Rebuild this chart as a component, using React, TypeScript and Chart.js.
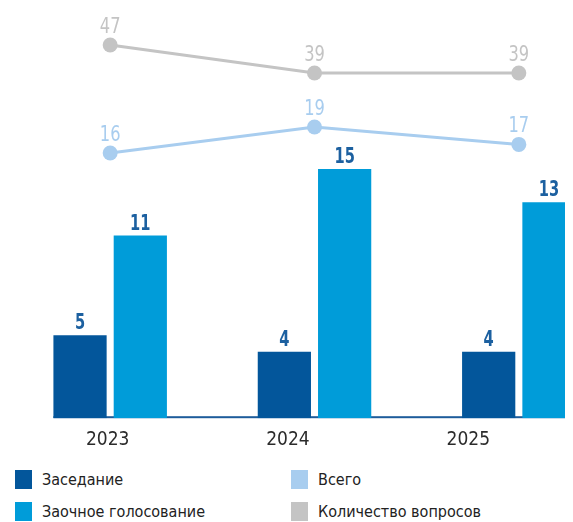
import React, { useEffect, useRef } from 'react';
import { Chart, registerables } from 'chart.js';

Chart.register(...registerables);

const categories = ['2023', '2024', '2025'];
const meetings = [5, 4, 4];
const absentee = [11, 15, 13];
const total = [16, 19, 17];
const questions = [47, 39, 39];

const seriesNames = ['Заседание', 'Заочное голосование', 'Всего', 'Количество вопросов'];

const DARK = '#03569b';
const BRIGHT = '#009cd9';
const LIGHT = '#a8cdef';
const GRAY = '#c4c4c4';
const LABEL_BLUE = '#1c60a0';
const AXIS_BLUE = '#1d5c9b';
const FONT = "'DejaVu Sans Condensed', 'DejaVu Sans', sans-serif";

function drawNarrow(ctx: CanvasRenderingContext2D, text: string, x: number, y: number, sx: number) {
  ctx.save();
  ctx.translate(x, y);
  ctx.scale(sx, 1);
  ctx.fillText(text, 0, 0);
  ctx.restore();
}

const baselinePlugin = {
  id: 'baseline',
  beforeDatasetsDraw(chart: any) {
    const meta = chart.getDatasetMeta(0);
    const first = meta.data[0];
    if (!first) return;
    const { ctx } = chart;
    const y0 = chart.scales.y.getPixelForValue(0);
    const x0 = first.x - first.width / 2;
    ctx.save();
    ctx.fillStyle = AXIS_BLUE;
    ctx.fillRect(x0, y0 - 2, chart.width - x0, 2);
    ctx.restore();
  },
};

const valueLabelPlugin = {
  id: 'valueLabels',
  afterDatasetsDraw(chart: any) {
    const { ctx } = chart;
    chart.data.datasets.forEach((ds: any, i: number) => {
      const meta = chart.getDatasetMeta(i);
      meta.data.forEach((el: any, j: number) => {
        const v = String(ds.data[j]);
        ctx.save();
        ctx.textAlign = 'center';
        ctx.textBaseline = 'alphabetic';
        if (ds.type === 'bar') {
          ctx.font = `bold 22px ${FONT}`;
          ctx.fillStyle = LABEL_BLUE;
          drawNarrow(ctx, v, el.x, el.y - 6, 0.74);
        } else {
          ctx.font = `21px ${FONT}`;
          ctx.fillStyle = ds.borderColor;
          drawNarrow(ctx, v, el.x, el.y - 12.5, 0.86);
        }
        ctx.restore();
      });
    });
  },
};

export default function App() {
  const ref = useRef<HTMLCanvasElement>(null);

  useEffect(() => {
    if (!ref.current) return;
    const chart = new Chart(ref.current, {
      type: 'bar',
      data: {
        labels: categories,
        datasets: [
          {
            type: 'bar',
            label: seriesNames[0],
            data: meetings,
            backgroundColor: DARK,
            xAxisID: 'x',
            yAxisID: 'y',
            order: 2,
            categoryPercentage: 0.59,
            barPercentage: 0.883,
          },
          {
            type: 'bar',
            label: seriesNames[1],
            data: absentee,
            backgroundColor: BRIGHT,
            xAxisID: 'x',
            yAxisID: 'y',
            order: 2,
            categoryPercentage: 0.59,
            barPercentage: 0.883,
          },
          {
            type: 'line',
            label: seriesNames[2],
            data: total,
            borderColor: LIGHT,
            backgroundColor: LIGHT,
            pointBackgroundColor: LIGHT,
            pointBorderWidth: 0,
            pointRadius: 7.5,
            borderWidth: 3,
            xAxisID: 'x',
            yAxisID: 'y2',
            order: 1,
          },
          {
            type: 'line',
            label: seriesNames[3],
            data: questions,
            borderColor: GRAY,
            backgroundColor: GRAY,
            pointBackgroundColor: GRAY,
            pointBorderWidth: 0,
            pointRadius: 7.5,
            borderWidth: 3,
            xAxisID: 'x',
            yAxisID: 'y3',
            order: 1,
          },
        ] as any,
      },
      options: {
        animation: false,
        responsive: false,
        layout: { padding: 0, autoPadding: false },
        plugins: {
          legend: { display: false },
          tooltip: { enabled: false },
        },
        scales: {
          x: { display: false, offset: true },
          xLabels: {
            type: 'linear',
            position: 'bottom',
            axis: 'x',
            min: -0.553,
            max: 2.847,
            offset: false,
            grid: { display: false, drawTicks: false },
            border: { display: false },
            ticks: {
              stepSize: 1,
              includeBounds: false,
              autoSkip: false,
              maxRotation: 0,
              font: { family: FONT, size: 19 },
              color: '#2b2b2b',
              padding: 10,
              callback: (v: any) => categories[v as number] ?? '',
            },
          },
          y: { display: false, min: 0, max: 24.7 },
          y2: { display: false, min: -14.58, max: 32.73 },
          y3: { display: false, min: -59.57, max: 57.57 },
        },
      },
      plugins: [baselinePlugin, valueLabelPlugin],
    } as any);
    return () => chart.destroy();
  }, []);

  const legend = [
    { label: seriesNames[0], color: DARK },
    { label: seriesNames[2], color: LIGHT },
    { label: seriesNames[1], color: BRIGHT },
    { label: seriesNames[3], color: GRAY },
  ];

  return (
    <div style={{ position: 'relative', width: 565, height: 514, overflow: 'hidden' }}>
      <canvas ref={ref} width={613} height={453} style={{ display: 'block', width: 613, height: 453 }} />
      <div
        style={{
          position: 'absolute',
          left: 7,
          top: 462,
          display: 'grid',
          gridTemplateColumns: '276px auto',
          rowGap: 13,
          fontFamily: FONT,
          fontSize: 16,
          color: '#222',
        }}
      >
        {legend.map((it) => (
          <div key={it.label} style={{ display: 'flex', alignItems: 'center', height: 19 }}>
            <span style={{ display: 'inline-block', width: 17, height: 19, background: it.color, marginRight: 10 }} />
            <span style={{ lineHeight: '19px' }}>{it.label}</span>
          </div>
        ))}
      </div>
    </div>
  );
}
